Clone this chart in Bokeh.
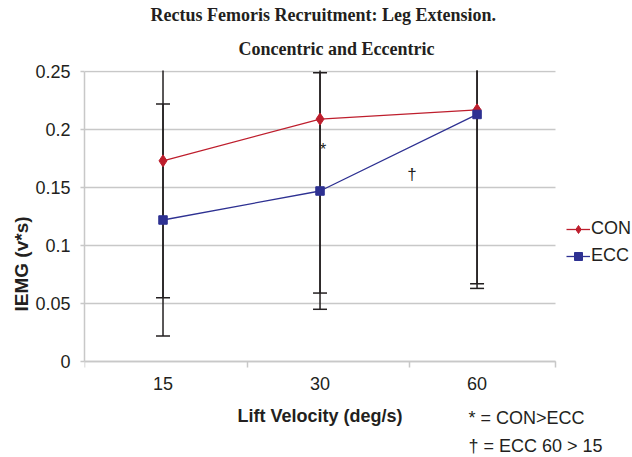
from bokeh.plotting import figure
from bokeh.models import (Range1d, FixedTicker, NumeralTickFormatter, Label,
                          Legend, LegendItem, ColumnDataSource, Title)
from bokeh.embed import file_html
from bokeh.resources import INLINE

# ---- data ----
categories = ["15", "30", "60"]
con = [0.173, 0.209, 0.217]
con_err = [0.118, 0.150, 0.150]
ecc = [0.122, 0.147, 0.213]
ecc_err = [0.100, 0.102, 0.150]
y_ticks = [0, 0.05, 0.1, 0.15, 0.2, 0.25]
x_title = "Lift Velocity (deg/s)"
y_title = "IEMG (v*s)"
title1 = "Rectus Femoris Recruitment: Leg Extension."
title2 = "Concentric and Eccentric"
note1 = "* = CON>ECC"
note2 = "\u2020 = ECC 60 > 15"

# ---- styles ----
RED = "#BE1E2D"
BLUE = "#2E3192"
INK = "#231F20"
GRID = "#C8C8C8"
SANS = "Liberation Sans"
SERIF = "Liberation Serif"

n = len(categories)
xpos = [i + 0.5 for i in range(n)]

src = ColumnDataSource(dict(
    x=xpos, con=con, ecc=ecc,
    con_lo=[v - e for v, e in zip(con, con_err)],
    con_hi=[v + e for v, e in zip(con, con_err)],
    ecc_lo=[v - e for v, e in zip(ecc, ecc_err)],
    ecc_hi=[v + e for v, e in zip(ecc, ecc_err)],
))

# the frame covers the legend/notes area too; axes are bounded to the data box
p = figure(width=632, height=457, output_backend="svg", toolbar_location=None,
           x_range=Range1d(0, 3.49), y_range=Range1d(-0.0828, 0.2509),
           min_border_left=84, min_border_right=0, min_border_top=70,
           min_border_bottom=0)
p.outline_line_color = None
p.background_fill_color = "white"
p.border_fill_color = "white"

# grid
p.xgrid.visible = False
yg = p.ygrid[0]
yg.ticker = FixedTicker(ticks=y_ticks)
yg.grid_line_color = GRID
yg.grid_line_width = 1.5
if "cross_bounds" in yg.properties():
    yg.cross_bounds = (0, n)
else:
    yg.visible = False
    p.segment(x0=[0] * len(y_ticks), y0=y_ticks, x1=[n] * len(y_ticks),
              y1=y_ticks, line_color=GRID, line_width=1.5)

# x axis (drawn at y = 0)
xa = p.xaxis[0]
xa.fixed_location = 0
xa.bounds = (0, n)
xa.ticker = FixedTicker(ticks=xpos, minor_ticks=[0, 1.035, 2.07, 3])
xa.major_label_overrides = {x: c for x, c in zip(xpos, categories)}
xa.major_tick_line_color = None
xa.major_tick_out = 0
xa.major_tick_in = 0
xa.minor_tick_line_color = GRID
xa.minor_tick_line_width = 1.5
xa.minor_tick_out = 6
xa.minor_tick_in = 0
xa.axis_line_color = GRID
xa.axis_line_width = 1.5
xa.major_label_text_font = SANS
xa.major_label_text_font_size = "18px"
xa.major_label_text_color = INK
xa.major_label_standoff = 10
xa.axis_label = x_title
xa.axis_label_text_font = SANS
xa.axis_label_text_font_size = "18px"
xa.axis_label_text_font_style = "bold"
xa.axis_label_text_color = INK
xa.axis_label_standoff = 12

# y axis
ya = p.yaxis[0]
ya.bounds = (0, 0.25)
ya.ticker = FixedTicker(ticks=y_ticks)
ya.formatter = NumeralTickFormatter(format="0.[00]")
ya.major_tick_line_color = GRID
ya.major_tick_line_width = 1.5
ya.major_tick_out = 4
ya.major_tick_in = 0
ya.minor_tick_line_color = None
ya.axis_line_color = GRID
ya.axis_line_width = 1.5
ya.major_label_text_font = SANS
ya.major_label_text_font_size = "18px"
ya.major_label_text_color = INK
ya.major_label_standoff = 10
ya.axis_label = y_title
ya.axis_label_text_font = SANS
ya.axis_label_text_font_size = "19px"
ya.axis_label_text_font_style = "bold"
ya.axis_label_text_color = INK
ya.axis_label_standoff = 0

# error bars
for lo, hi in (("con_lo", "con_hi"), ("ecc_lo", "ecc_hi")):
    p.segment(x0="x", y0=lo, x1="x", y1=hi, source=src,
              line_color=INK, line_width=1.5)
    p.scatter(x="x", y=lo, source=src, marker="dash", size=14,
              line_color=INK, line_width=1.5)
    p.scatter(x="x", y=hi, source=src, marker="dash", size=14,
              line_color=INK, line_width=1.5)

# series
con_line = p.line("x", "con", source=src, line_color=RED, line_width=1.3)
con_pts = p.scatter("x", "con", source=src, marker="diamond", size=12,
                    fill_color=RED, line_color=RED)
ecc_line = p.line("x", "ecc", source=src, line_color=BLUE, line_width=1.3)
ecc_pts = p.scatter("x", "ecc", source=src, marker="square", size=8.5,
                    fill_color=BLUE, line_color=BLUE)

legend = Legend(items=[LegendItem(label="CON", renderers=[con_line, con_pts]),
                       LegendItem(label="ECC", renderers=[ecc_line, ecc_pts])],
                location=(482, 191), padding=0, margin=0, spacing=6,
                glyph_width=24, glyph_height=20, label_height=20,
                label_standoff=1, border_line_color=None,
                background_fill_alpha=0, label_text_font=SANS,
                label_text_font_size="18px", label_text_color=INK)
p.add_layout(legend, "center")

# significance marks
p.add_layout(Label(x=1.519, y=0.1826, text="*", text_align="center",
                   text_baseline="alphabetic",
                   text_font=SANS, text_font_size="16px", text_color=INK))
p.add_layout(Label(x=2.086, y=0.1615, text="\u2020", text_align="center",
                   text_baseline="alphabetic",
                   text_font=SANS, text_font_size="17px", text_color=INK))

# titles (second line first: it sits nearest the plot)
p.add_layout(Title(text=title2, align="left", offset=154, standoff=24,
                   text_font=SERIF, text_font_size="18px",
                   text_font_style="bold", text_color=INK), "above")
p.add_layout(Title(text=title1, align="left", offset=66, standoff=0,
                   text_font=SERIF, text_font_size="18px",
                   text_font_style="bold", text_color=INK), "above")

# notes
p.add_layout(Label(x=384, y=40, x_units="screen", y_units="screen",
                   text=note1, text_baseline="alphabetic", text_font=SANS,
                   text_font_size="18px", text_color=INK))
p.add_layout(Label(x=384, y=12, x_units="screen", y_units="screen",
                   text=note2, text_baseline="alphabetic", text_font=SANS,
                   text_font_size="18px", text_color=INK))

open("out.html", "w").write(file_html(p, INLINE))
